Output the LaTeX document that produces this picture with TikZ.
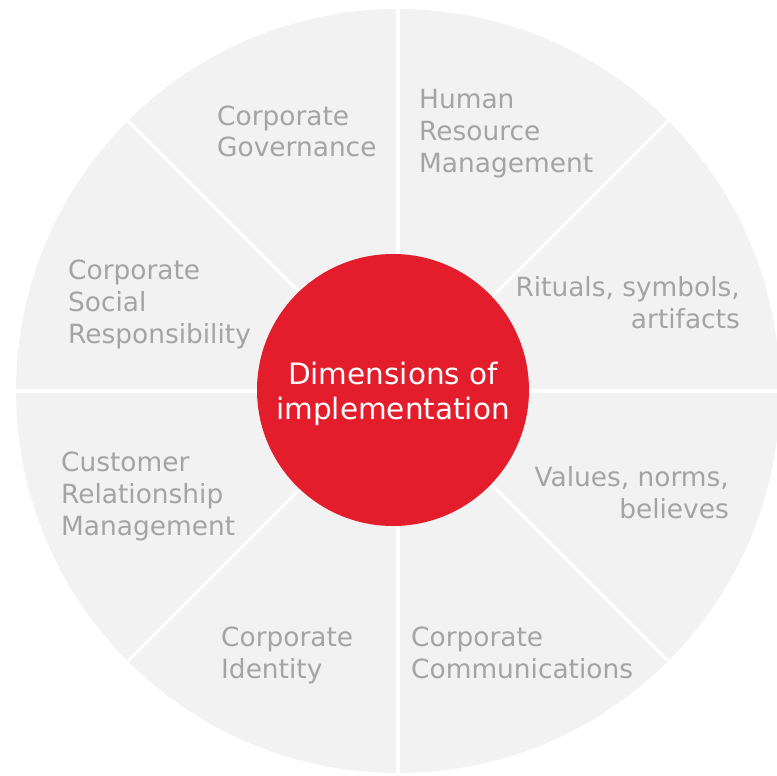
\documentclass[tikz,border=0pt]{standalone}
\usepackage{fontspec}
\setmainfont{DejaVu Sans}
\usepackage{xcolor}
\definecolor{wheelgray}{HTML}{F2F2F2}
\definecolor{labelgray}{HTML}{A4A4A4}
\definecolor{corered}{HTML}{E31D2B}
\tikzset{
	dimlabel/.style={text=labelgray, inner sep=0pt, font=\fontsize{26.4}{32}\selectfont},
	leftlabel/.style={dimlabel, anchor=base west, align=left},
	rightlabel/.style={dimlabel, anchor=base east, align=right},
	core/.style={circle, fill=corered, minimum size=272pt, inner sep=0pt},
	coretext/.style={text=white, inner sep=0pt, align=center, font=\fontsize{29.5}{35}\selectfont},
}

\begin{document}
\begin{tikzpicture}[x=1pt,y=-1pt]
		\useasboundingbox (0,0) rectangle (777,776);
		\fill[wheelgray] (398,391) circle (382);
		\foreach \a in {0,45,...,315}
			\draw[white,line width=3.5pt] (398,391) -- ++(\a:382);
		\node[core] (core) at (393,390) {};
		\node[coretext] (dim) at (393,394) {Dimensions of\\implementation};
		\node[leftlabel] (gov) at (217,157) {Corporate\\Governance};
		\node[leftlabel] (hrm) at (419,172) {Human\\Resource\\Management};
		\node[rightlabel] (rit) at (740,328) {Rituals, symbols,\\artifacts};
		\node[rightlabel] (val) at (729,518) {Values, norms,\\believes};
		\node[leftlabel] (com) at (411,678) {Corporate\\Communications};
		\node[leftlabel] (ide) at (221,678) {Corporate\\Identity};
		\node[leftlabel] (crm) at (61,535) {Customer\\Relationship\\Management};
		\node[leftlabel] (csr) at (68,343) {Corporate\\Social\\Responsibility};
	\end{tikzpicture}
\end{document}
